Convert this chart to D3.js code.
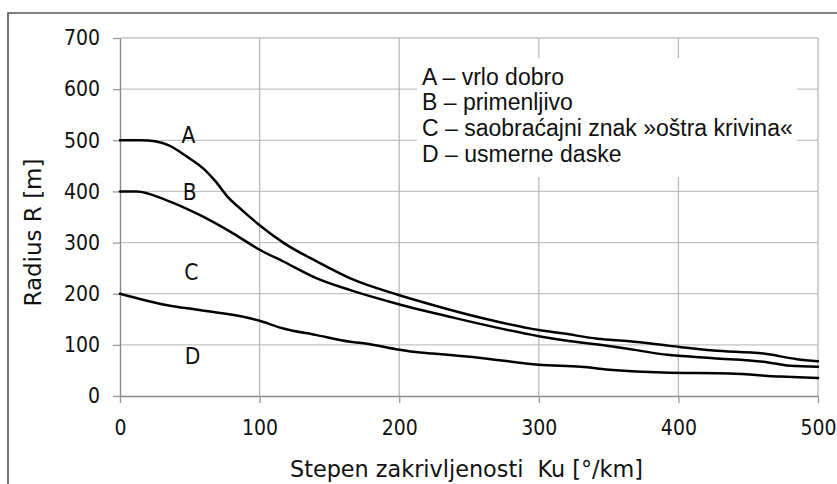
<!DOCTYPE html>
<html>
<head>
<meta charset="utf-8">
<script src="https://cdn.jsdelivr.net/npm/d3@7"></script>
<style>
  html, body { margin: 0; padding: 0; background: #fff; }
  svg { display: block; }
</style>
</head>
<body>
<svg id="chart" width="837" height="484"></svg>
<script>
// Curvature (°/km) at which each boundary was sampled
const kuA = [0, 15, 25, 35, 48, 60, 68, 77, 88, 100, 118, 141, 165, 199, 224, 260, 300, 318, 342, 365, 394, 425, 461, 485, 500];
const radiusA = [500, 500, 498, 490, 468, 444, 421, 390, 362, 334, 298, 263, 230, 198, 178, 152, 129, 122, 112, 107, 98, 89, 83, 72, 68];

const kuB = [0, 12, 33, 57, 81, 100, 117, 141, 165, 199, 236, 300, 318, 353, 394, 425, 461, 480, 500];
const radiusB = [400, 400, 383, 354, 318, 286, 263, 230, 207, 180, 155, 117, 109, 97, 80, 74, 67, 59, 57];

const kuC = [0, 33, 57, 93, 100, 117, 141, 165, 177, 199, 215, 224, 260, 300, 330, 353, 389, 437, 473, 500];
const radiusC = [200, 178, 168, 152, 147, 132, 119, 106, 102, 91, 85, 83, 74, 61, 57, 51, 46, 44, 38, 35];

const xTicks = [0, 100, 200, 300, 400, 500];
const yTicks = [0, 100, 200, 300, 400, 500, 600, 700];

const zoneLabels = [
  { name: "A", ku: 49, r: 500 },
  { name: "B", ku: 50, r: 388 },
  { name: "C", ku: 51, r: 232 },
  { name: "D", ku: 52, r: 68 }
];

const legendLines = [
  "A – vrlo dobro",
  "B – primenljivo",
  "C – saobraćajni znak »oštra krivina«",
  "D – usmerne daske"
];

const xTitle = "Stepen zakrivljenosti  Ku [°/km]";
const yTitle = "Radius R [m]";

const axisFont = "'DejaVu Sans Condensed', 'DejaVu Sans', sans-serif";
const legendFont = "'Liberation Sans', Arial, sans-serif";

const svg = d3.select("#chart");

const x = d3.scaleLinear().domain([0, 500]).range([120, 818]);
const y = d3.scaleLinear().domain([0, 700]).range([396, 38]);

// outer frame (top and left edges)
svg.append("path")
  .attr("d", "M8,484V13H837")
  .attr("fill", "none")
  .attr("stroke", "#555")
  .attr("stroke-width", 1.6);

// grid
const grid = svg.append("g").attr("class", "grid");
grid.selectAll("line.h")
  .data(yTicks.filter(d => d > 0))
  .join("line")
  .attr("class", "h")
  .attr("x1", x(0)).attr("x2", x(500))
  .attr("y1", d => y(d)).attr("y2", d => y(d))
  .attr("stroke", "#c4c4c4").attr("stroke-width", 1.3);
grid.selectAll("line.v")
  .data(xTicks.filter(d => d > 0))
  .join("line")
  .attr("class", "v")
  .attr("x1", d => x(d)).attr("x2", d => x(d))
  .attr("y1", y(700)).attr("y2", y(0))
  .attr("stroke", "#b8b8b8").attr("stroke-width", 1.3);

// legend box blanks out the grid behind it
svg.append("rect")
  .attr("x", 417).attr("y", 58)
  .attr("width", 380).attr("height", 119)
  .attr("fill", "#fff");

const legend = svg.append("g")
  .attr("font-family", legendFont)
  .attr("font-size", 23)
  .attr("fill", "#111");
legend.selectAll("text")
  .data(legendLines)
  .join("text")
  .attr("x", 422)
  .attr("y", (d, i) => 84.5 + i * 25.8)
  .text(d => d);

// axes
const yAxis = svg.append("g")
  .attr("transform", `translate(${x(0)},0)`)
  .call(d3.axisLeft(y).tickValues(yTicks).tickSize(7).tickSizeOuter(0).tickPadding(13));
const xAxis = svg.append("g")
  .attr("transform", `translate(0,${y(0)})`)
  .call(d3.axisBottom(x).tickValues(xTicks).tickSize(7).tickSizeOuter(0).tickPadding(17));

[yAxis, xAxis].forEach(g => {
  g.select(".domain").attr("stroke", "#8a8a8a").attr("stroke-width", 1.4);
  g.selectAll(".tick line").attr("stroke", "#9a9a9a").attr("stroke-width", 1.3);
  g.selectAll(".tick text")
    .attr("font-family", axisFont)
    .attr("font-size", 21)
    .attr("fill", "#111");
});

// boundary curves
const line = d3.line()
  .x(d => x(d[0]))
  .y(d => y(d[1]))
  .curve(d3.curveMonotoneX);

const series = [
  d3.zip(kuA, radiusA),
  d3.zip(kuB, radiusB),
  d3.zip(kuC, radiusC)
];
svg.append("g")
  .selectAll("path")
  .data(series)
  .join("path")
  .attr("d", line)
  .attr("fill", "none")
  .attr("stroke", "#000")
  .attr("stroke-width", 2.5)
  .attr("stroke-linejoin", "round")
  .attr("stroke-linecap", "round");

// zone letters
svg.append("g")
  .attr("font-family", axisFont)
  .attr("font-size", 22.5)
  .attr("fill", "#111")
  .attr("text-anchor", "middle")
  .selectAll("text")
  .data(zoneLabels)
  .join("text")
  .attr("x", d => x(d.ku))
  .attr("y", d => y(d.r) + 2.5)
  .text(d => d.name);

// axis titles
svg.append("text")
  .attr("x", 290).attr("y", 476.5)
  .attr("font-family", axisFont)
  .attr("font-size", 23)
  .attr("fill", "#111")
  .attr("textLength", 353)
  .attr("lengthAdjust", "spacingAndGlyphs")
  .attr("xml:space", "preserve")
  .style("white-space", "pre")
  .text(xTitle);

svg.append("text")
  .attr("transform", "translate(41,306.5) rotate(-90)")
  .attr("font-family", axisFont)
  .attr("font-size", 23)
  .attr("fill", "#111")
  .attr("textLength", 148)
  .attr("lengthAdjust", "spacingAndGlyphs")
  .text(yTitle);
</script>
</body>
</html>
